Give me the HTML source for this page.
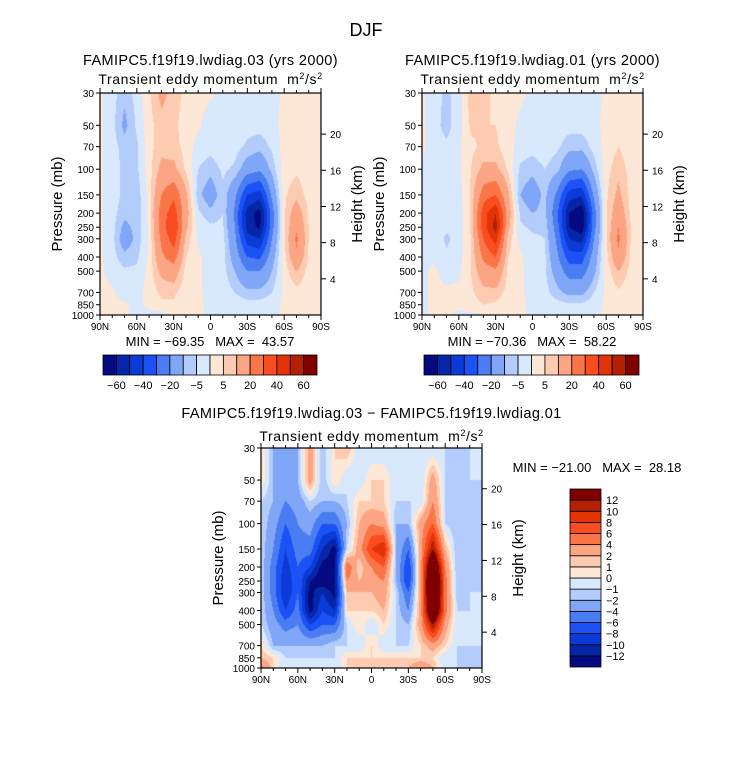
<!DOCTYPE html>
<html><head><meta charset="utf-8"><style>
body{margin:0;background:#fff;width:733px;height:762px;position:relative;overflow:hidden;font-family:"Liberation Sans",sans-serif}
canvas{position:absolute}
svg{position:absolute;left:0;top:0}
text{white-space:pre}
</style></head><body>
<canvas id="c1" width="221" height="222" style="left:100px;top:93px"></canvas>
<canvas id="c2" width="221" height="222" style="left:422px;top:93px"></canvas>
<canvas id="c3" width="221" height="220" style="left:261px;top:448px"></canvas>
<svg id="s" width="733" height="762"></svg>
<script>
const lats=[90,80,70,60,50,40,30,20,10,0,-10,-20,-30,-40,-50,-60,-70,-80,-90];
const levels=[30,50,70,100,150,200,250,300,400,500,700,850,1000];
const pTicks=[30,50,70,100,150,200,250,300,400,500,700,850,1000];
const zTicks=[4,8,12,16,20];
const latTickLabels=["90N","60N","30N","0","30S","60S","90S"];
const topLevels=[-60,-50,-40,-30,-20,-10,-5,0,5,10,20,30,40,50,60];
const topLabels=["-60","-40","-20","-5","5","20","40","60"];
const diffLevels=[-12,-10,-8,-6,-4,-2,-1,0,1,2,4,6,8,10,12];
const diffLabels=["-12","-10","-8","-6","-4","-2","-1","0","1","2","4","6","8","10","12"];
const colors=["#060a80","#0626a8","#0b3bd6","#1c52f5","#4a7cf2","#80a6f8","#b4ccfb","#d8e8fd","#fde7d6","#fccbb2","#fba584","#fa7649","#fa4c1e","#e33408","#b42004","#800000"];
const field03=[
[1,-3,-8,-3,4,12,8,3,2,1,-2,-2,-2,-2,-2,1,2,2,1],
[1,-3,-12,-4,3,8,6,3,1,-3,-2,-2,-3,-3,-2,2,3,2,1],
[1,-3,-7,-6,3,8,7,3,-2,-3,-1,-3,-6,-8,-4,2,3,2,1],
[1,-3,-6,-6,3,12,12,4,-5,-8,-4,-6,-15,-18,-8,3,4,3,1],
[1,-3,-6,-8,2,20,28,12,-8,-15,-6,-18,-40,-45,-18,4,8,3,1],
[1,-3,-8,-8,2,25,35,14,-4,-8,-5,-22,-55,-65,-25,4,15,4,1],
[1,-3,-12,-8,1,25,40,12,-2,-4,-4,-20,-55,-62,-24,4,18,5,1],
[1,-3,-15,-8,1,22,35,8,-1,-3,-3,-18,-45,-50,-20,4,22,5,1],
[1,-3,-8,-6,1,18,25,5,1,-2,-3,-14,-30,-32,-14,3,18,4,1],
[1,-2,-4,-4,2,12,15,3,1,-2,-3,-10,-20,-20,-10,2,10,3,1],
[1,1,-3,-2,2,6,6,2,1,-2,-2,-5,-8,-8,-5,1,3,2,1],
[1,1,1,-2,2,4,4,2,1,-1,-1,-2,-3,-3,-2,1,1,1,1],
[1,1,1,-2,-2,-2,1,1,1,-1,-1,-1,-2,-2,-1,1,1,1,1]];
const field01=[
[1,-3,-6,-3,8,6,4,2,1,-1,-2,-2,-2,-2,-2,1,2,2,1],
[1,-3,-7,-2,6,5,5,2,-1,-3,-2,-2,-3,-3,-2,2,3,2,1],
[1,-2,-4,-1,4,6,6,2,-2,-3,-2,-4,-8,-8,-3,2,5,2,1],
[-1,-2,-3,-1,5,12,12,4,-6,-8,-5,-8,-18,-20,-8,3,8,3,1],
[-1,-2,-3,-2,6,25,30,12,-10,-15,-8,-22,-45,-48,-18,4,12,3,1],
[-1,-2,-3,-3,6,35,50,15,-6,-10,-8,-28,-60,-70,-25,4,16,4,1],
[-1,-2,-4,-3,6,35,55,12,-4,-6,-6,-25,-60,-68,-24,4,20,5,1],
[-1,-2,-6,-3,5,30,45,8,-2,-4,-5,-22,-50,-55,-20,4,22,5,1],
[-1,-1,-4,-2,5,22,30,5,1,-3,-4,-18,-35,-35,-15,3,18,4,1],
[-1,1,-2,-1,5,15,18,4,1,-2,-4,-14,-25,-25,-12,2,10,3,1],
[-1,1,1,1,4,8,8,3,1,-2,-3,-8,-12,-12,-5,1,4,2,1],
[-1,1,1,1,3,5,4,2,1,-1,-1,-3,-4,-4,-2,1,2,1,1],
[-1,1,1,-1,-1,-1,2,1,1,-1,-1,-1,-2,-2,-1,1,1,1,1]];
const fieldDiff=[
[1,-2,-3,-2,3,-2,1,2,-1,-1,-1,-1,-1,-1,-1,-1,-2,-1,-1],
[1,-2,-3,-2,3,-2,1,-1,-1,1,1,-1,-1,-1,3,-1,-2,-1,-1],
[-1,-2,-4,-3,-1,-2,-2,-1,1,1,1,-1,-1,-1,4,-1,-2,-2,-1],
[-1,-3,-6,-4,-3,-6,-6,-2,2,4,3,-2,-2,3,6,-1,-2,-2,-1],
[-1,-4,-8,-5,-5,-10,-13,-1,3,8,10,-2,-6,3,12,2,-2,-2,-1],
[-1,-5,-9,-6,-8,-13,-13,6,1,4,6,-2,-8,3,20,4,-2,-2,-1],
[-1,-5,-10,-6,-12,-14,-13,4,2,3,4,-2,-8,3,22,5,-2,-2,-1],
[-1,-5,-10,-6,-13,-10,-13,2,2,2,3,-1,-6,3,22,5,-2,-1,-1],
[-1,-4,-8,-5,-13,-8,-10,1,1,1,2,-1,-4,3,20,5,-1,-1,-1],
[-1,-3,-5,-4,-8,-6,-6,-1,1,-1,1,-1,-2,3,12,3,-1,-1,-1],
[1,-2,-2,-2,-2,-2,-1,-1,-1,1,-1,-1,-1,1,3,1,-1,-1,-1],
[2,1,-1,-1,-1,-1,-1,1,1,1,1,1,1,1,1,-1,-1,-2,-1],
[5,1,-1,-1,-1,-1,-1,1,1,1,1,1,2,4,2,-1,-1,-2,-1]];

const L0=Math.log(30),L1=Math.log(1000);
function yOf(p,top,h){return top+(Math.log(p)-L0)/(L1-L0)*h;}
function xOf(lat,left,w){return left+(90-lat)/180*w;}
function colorFor(v,lv){let i=0;while(i<lv.length&&v>=lv[i])i++;return colors[i];}
function hexRgb(h){return [parseInt(h.slice(1,3),16),parseInt(h.slice(3,5),16),parseInt(h.slice(5,7),16)];}
function render(id,field,lv){
  const c=document.getElementById(id),ctx=c.getContext('2d'),W=c.width,H=c.height;
  const img=ctx.createImageData(W,H);
  const lnl=levels.map(Math.log);
  for(let y=0;y<H;y++){
    const lp=L0+(y+0.5)/H*(L1-L0);
    let r=0;while(r<levels.length-2&&lp>lnl[r+1])r++;
    const fr=Math.min(1,Math.max(0,(lp-lnl[r])/(lnl[r+1]-lnl[r])));
    for(let x=0;x<W;x++){
      const lat=90-(x+0.5)/W*180;
      const cf=(90-lat)/10;let ci=Math.min(lats.length-2,Math.floor(cf));const fc=cf-ci;
      const v=(field[r][ci]*(1-fc)+field[r][ci+1]*fc)*(1-fr)+(field[r+1][ci]*(1-fc)+field[r+1][ci+1]*fc)*fr;
      const rgb=hexRgb(colorFor(v,lv));const k=(y*W+x)*4;
      img.data[k]=rgb[0];img.data[k+1]=rgb[1];img.data[k+2]=rgb[2];img.data[k+3]=255;
    }
  }
  ctx.putImageData(img,0,0);
}
render('c1',field03,topLevels);render('c2',field01,topLevels);render('c3',fieldDiff,diffLevels);

const S=document.getElementById('s');const NS='http://www.w3.org/2000/svg';
function el(tag,attrs,txt){const e=document.createElementNS(NS,tag);for(const k in attrs)e.setAttribute(k,attrs[k]);if(txt!==undefined)e.textContent=txt;S.appendChild(e);return e;}
function text(x,y,s,size,anchor,name,rot){const e=el('text',{x:x,y:y,'font-size':size,'text-anchor':anchor||'middle',fill:'#000','font-family':'Liberation Sans, sans-serif'},s);


if(rot)e.setAttribute('transform','rotate(-90 '+x+' '+y+')');return e;}
function panel(left,top,w,h,tag,title,titleY,subY){
  el('rect',{x:left,y:top,width:w,height:h,fill:'none',stroke:'#000','stroke-width':1.2});
  for(let lat=90;lat>=-90;lat-=10){const x=xOf(lat,left,w);const maj=lat%30===0;
    el('line',{x1:x,y1:top+h,x2:x,y2:top+h+(maj?5:3),stroke:'#000'});el('line',{x1:x,y1:top,x2:x,y2:top-(maj?5:3),stroke:'#000'});}
  latTickLabels.forEach((s,i)=>{text(xOf(90-30*i,left,w),top+h+15,s,10,'middle','x-tick-label');});
  pTicks.forEach(p=>{const y=yOf(p,top,h);el('line',{x1:left-4,y1:y,x2:left,y2:y,stroke:'#000'});text(left-6,y+4,String(p),10,'end','y-tick-label-pressure');});
  zTicks.forEach(z=>{const y=yOf(1000*Math.exp(-z/7),top,h);el('line',{x1:left+w,y1:y,x2:left+w+5,y2:y,stroke:'#000'});text(left+w+9,y+4,String(z),10,'start','y-tick-label-height');});
  text(left-38,top+h/2,'Pressure (mb)',15,'middle','y-axis-title-pressure',true);
  text(left+w+41,top+h/2,'Height (km)',15,'middle','y-axis-title-height',true);
  const tt=text(left+w/2,titleY,title,14.5,'middle',tag+'-title');
  tt.setAttribute('letter-spacing','0.4');
  const st=text(left+w/2,subY,'',14,'middle',tag+'-subtitle');
  st.setAttribute('letter-spacing','0.6');
  st.innerHTML='Transient eddy momentum  m<tspan dy="-5" font-size="9">2</tspan><tspan dy="5">/s</tspan><tspan dy="-5" font-size="9">2</tspan>';
}
function hbar(left,top,w,h,lab){
  const n=colors.length,bw=w/n;
  colors.forEach((c,i)=>{const r=el('rect',{x:left+i*bw,y:top,width:bw,height:h,fill:c,stroke:'#000','stroke-width':0.8});

});
  lab.forEach((s,i)=>text(left+bw*(1+2*i),top+h+14,s.replace('-','\u2212'),11,'middle','colorbar-label'));
}
text(366,36,'DJF',18,'middle','figure-title');
panel(100,93,221,222,'panel-03','FAMIPC5.f19f19.lwdiag.03 (yrs 2000)',65,84);
panel(422,93,221,222,'panel-01','FAMIPC5.f19f19.lwdiag.01 (yrs 2000)',65,84);
panel(261,448,221,220,'panel-diff','FAMIPC5.f19f19.lwdiag.03 \u2212 FAMIPC5.f19f19.lwdiag.01',418,441);
text(210,346,'MIN = \u221269.35   MAX =  43.57',13,'middle','min-max-03');
text(532,346,'MIN = \u221270.36   MAX =  58.22',13,'middle','min-max-01');
text(597,472,'MIN = \u221221.00   MAX =  28.18',13,'middle','min-max-diff');
hbar(103,355,214,20,topLabels);hbar(424,355,215,20,topLabels);
const n=colors.length,bh=178/n;
colors.forEach((c,i)=>{const r=el('rect',{x:570,y:489+(n-1-i)*bh,width:31,height:bh,fill:c,stroke:'#000','stroke-width':0.8});

});
diffLabels.forEach((s,i)=>text(606,489+(n-1-i)*bh+4,s.replace('-','\u2212'),11,'start','diff-colorbar-label'));
</script>
</body></html>
